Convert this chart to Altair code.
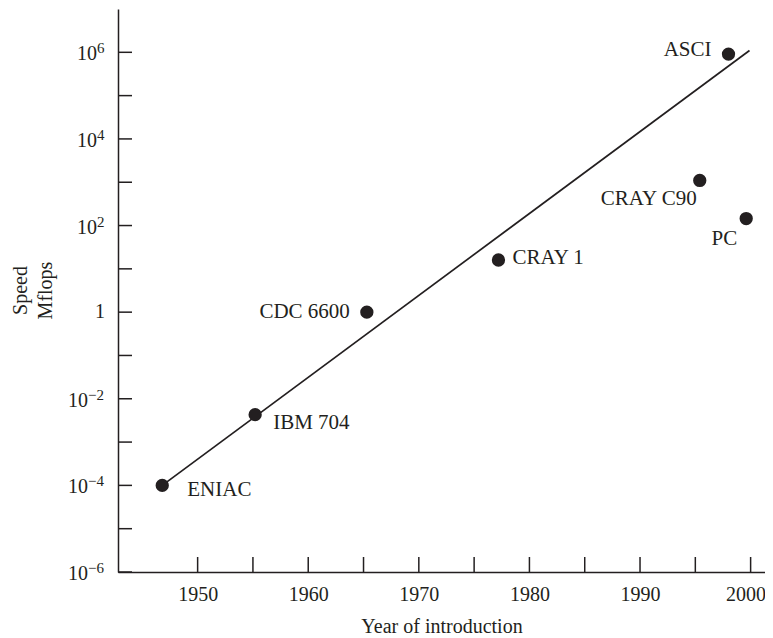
import altair as alt
import pandas as pd

# ---- data ----
names = ["ENIAC", "IBM 704", "CDC 6600", "CRAY 1", "CRAY C90", "ASCI", "PC"]
years = [1946.8, 1955.2, 1965.3, 1977.2, 1995.4, 1998.0, 1999.6]
speeds = [1e-4, 0.0043, 1.0, 16.0, 1100.0, 9.1e5, 145.0]

trend_years = [1946.8, 1999.9]
trend_speeds = [1e-4, 1.1e6]

x_tick_years = [1950, 1955, 1960, 1965, 1970, 1975, 1980, 1985, 1990, 1995, 2000]
x_label_years = [1950, 1960, 1970, 1980, 1990, 2000]
y_tick_values = [1e-6, 1e-5, 1e-4, 1e-3, 1e-2, 1e-1, 1.0, 1e1, 1e2, 1e3, 1e4, 1e5, 1e6]
y_label_values = [1e-6, 1e-4, 1e-2, 1.0, 1e2, 1e4, 1e6]
y_label_bases = ["10", "10", "10", "1", "10", "10", "10"]
y_label_exps = ["\u22126", "\u22124", "\u22122", "", "2", "4", "6"]

x_domain = [1942.8, 2001.3]
y_domain = [1e-6, 1e7]

# ---- styles ----
W, H = 647, 563
INK = "#231f20"
FONT = "Liberation Serif"

label_style = {
    "ENIAC": ("left", 25, 5),
    "IBM 704": ("left", 18, 8),
    "CDC 6600": ("right", -17, 0),
    "CRAY 1": ("left", 14, -2),
    "CRAY C90": ("right", -3, 19),
    "ASCI": ("right", -17, -4),
    "PC": ("right", -9, 20),
}
# pixel anchor (relative to the plot's left edge) of the y tick labels by kind
ylab_anchor = {"neg": -30, "pos": -21, "one": -13}

pts = pd.DataFrame({"name": names, "year": years, "speed": speeds})
trend = pd.DataFrame({"year": trend_years, "speed": trend_speeds})
xt = pd.DataFrame({"year": x_tick_years})
yt = pd.DataFrame({"speed": y_tick_values})
yl = pd.DataFrame({"speed": y_label_values, "base": y_label_bases, "exp": y_label_exps})
yl["kind"] = ["one" if e == "" else ("neg" if e.startswith("\u2212") else "pos") for e in y_label_exps]

xscale = alt.Scale(domain=x_domain, nice=False, zero=False)
yscale = alt.Scale(type="log", domain=y_domain, nice=False)

xaxis = alt.Axis(
    values=x_label_years, format="d", ticks=False, tickSize=0, grid=False,
    domain=True, domainColor=INK, domainWidth=1.5,
    labelFont=FONT, labelFontSize=20, labelColor=INK, labelPadding=12,
    labelFlush=16, labelFlushOffset=15, labelOverlap=False,
    title="Year of introduction", titleFont=FONT, titleFontSize=20,
    titleFontWeight="normal", titleColor=INK, titleBaseline="alphabetic",
    titleY=60,
)
yaxis = alt.Axis(
    values=y_label_values, labels=False, ticks=False, tickSize=0,
    grid=False, domain=True, domainColor=INK, domainWidth=1.5,
    title=["Speed", "Mflops"], titleFont=FONT, titleFontSize=20,
    titleFontWeight="normal", titleColor=INK, titleAngle=270,
    titleBaseline="top", titleAlign="center", titleLineHeight=25,
    titleX=-108, titleY=281,
)

X = alt.X("year:Q", scale=xscale, axis=xaxis)
Y = alt.Y("speed:Q", scale=yscale, axis=yaxis)

line = alt.Chart(trend).mark_line(color=INK, strokeWidth=1.7).encode(x=X, y=Y)
dots = alt.Chart(pts).mark_circle(size=177, color=INK, opacity=1).encode(x=X, y=Y)

xticks = alt.Chart(xt).mark_tick(
    orient="vertical", size=15, thickness=1.5, color=INK, opacity=1
).encode(x=X, y=alt.value(H - 7.5))
yticks = alt.Chart(yt).mark_tick(
    orient="horizontal", size=14, thickness=1.5, color=INK, opacity=1
).encode(y=Y, x=alt.value(7))

# y tick labels: "10" plus a raised, smaller exponent
ylabel_layers = []
for kind, ax in ylab_anchor.items():
    base = alt.Chart(yl).transform_filter(alt.datum.kind == kind).mark_text(
        align="right", baseline="middle", dy=(0 if kind == "one" else 2),
        font=FONT, fontSize=20, color=INK
    ).encode(y=Y, x=alt.value(ax), text="base:N")
    ylabel_layers.append(base)
    if kind != "one":
        ex = alt.Chart(yl).transform_filter(alt.datum.kind == kind).mark_text(
            align="left", baseline="middle", dy=-4,
            font=FONT, fontSize=15, color=INK
        ).encode(y=Y, x=alt.value(ax), text="exp:N")
        ylabel_layers.append(ex)

labels = []
for n in names:
    al, dx, dy = label_style[n]
    labels.append(
        alt.Chart(pts).transform_filter(alt.datum.name == n).mark_text(
            align=al, baseline="middle", dx=dx, dy=dy,
            font=FONT, fontSize=21, color=INK
        ).encode(x=X, y=Y, text="name:N")
    )

chart = alt.layer(line, dots, xticks, yticks, *ylabel_layers, *labels).properties(
    width=W, height=H,
    autosize=alt.AutoSizeParams(type="none"),
    padding={"left": 110, "top": 1, "right": 0, "bottom": 66},
    background="white",
).configure_view(stroke=None)

chart.save("out.html", embed_options={"renderer": "svg", "actions": False})
